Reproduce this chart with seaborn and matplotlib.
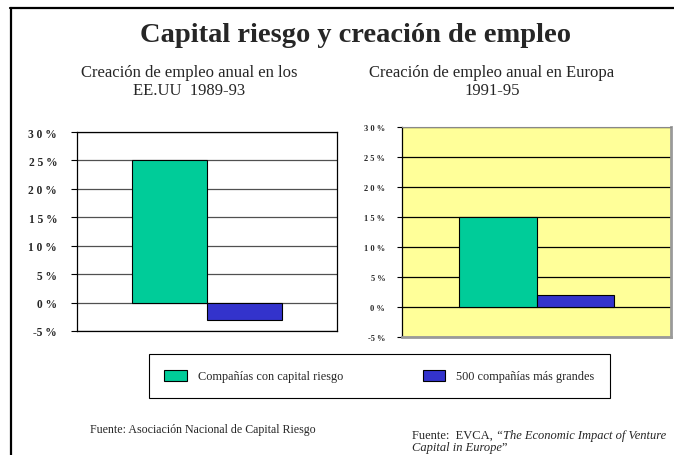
import matplotlib
matplotlib.use("Agg")
import matplotlib.pyplot as plt
from matplotlib.lines import Line2D
import seaborn as sns
import pandas as pd

# ---- data ----
regions = ["EE.UU 1989-93", "Europa 1991-95"]
series_names = ["Compañías con capital riesgo", "500 compañías más grandes"]
venture_values = [25, 15]
top500_values = [-3, 2]
y_ticks = [-5, 0, 5, 10, 15, 20, 25, 30]
left_tick_labels = ["-5 %", "0 %", "5 %", "1 0 %", "1 5 %", "2 0 %", "2 5 %", "3 0 %"]
right_tick_labels = ["-5 %", "0 %", "5 %", "1 0 %", "1 5 %", "2 0 %", "2 5 %", "3 0 %"]

title = "Capital riesgo y creación de empleo"
left_subtitle = "Creación de empleo anual en los\nEE.UU  1989-93"
right_subtitle = "Creación de empleo anual en Europa\n1991-95"

df = pd.DataFrame({
    "region": [regions[0], regions[0], regions[1], regions[1]],
    "serie": [series_names[0], series_names[1], series_names[0], series_names[1]],
    "value": [venture_values[0], top500_values[0], venture_values[1], top500_values[1]],
})

GREEN = "#00CC99"
BLUE = "#3333CC"

sns.set_style("white")
plt.rcParams["font.family"] = ["Liberation Serif", "DejaVu Serif"]

W, H = 674, 456
fig = plt.figure(figsize=(W / 100, H / 100), dpi=100)

def fx(px):
    return px / W

def fy(py):
    return 1 - py / H

ax1 = fig.add_axes([fx(77), fy(332), fx(337) - fx(77), fy(133) - fy(332)])
ax2 = fig.add_axes([fx(402), fy(338), fx(671) - fx(402), fy(128) - fy(338)])

for ax, reg in [(ax1, regions[0]), (ax2, regions[1])]:
    sub = df[df["region"] == reg]
    sns.barplot(data=sub, x="region", y="value", hue="serie",
                hue_order=series_names, palette=[GREEN, BLUE], saturation=1,
                width=0.577, gap=0, edgecolor="black", linewidth=0.8,
                ax=ax, zorder=3)
    ax.set_xlim(-0.5, 0.5)
    ax.set_ylim(-5, 30)
    ax.set_xticks([])
    ax.set_xlabel("")
    ax.set_ylabel("")
    ax.set_yticks(y_ticks)

handles, labels = ax1.get_legend_handles_labels()
ax1.get_legend().remove()
ax2.get_legend().remove()

# left chart style
ax1.set_facecolor("white")
ax1.set_yticklabels(left_tick_labels, fontsize=8.3, fontweight="bold")
ax1.tick_params(axis="y", left=True, length=4.3, width=0.8, color="black", pad=10)
ax1.yaxis.grid(True, color="#505050", linewidth=0.9, zorder=0)
ax1.set_axisbelow(True)
for s in ax1.spines.values():
    s.set_color("black")
    s.set_linewidth(0.9)

# right chart style
ax2.set_facecolor("#FFFF99")
ax2.set_yticklabels(right_tick_labels, fontsize=6, fontweight="bold")
ax2.tick_params(axis="y", left=True, length=3.6, width=0.8, color="black", pad=8.5)
ax2.yaxis.grid(True, color="black", linewidth=0.9, zorder=0)
ax2.set_axisbelow(True)
ax2.spines["left"].set_color("black")
ax2.spines["left"].set_linewidth(0.9)
ax2.spines["top"].set_color("#888888")
ax2.spines["top"].set_linewidth(0.8)
for k in ["right", "bottom"]:
    ax2.spines[k].set_color("#9a9a9a")
    ax2.spines[k].set_linewidth(2.0)

# titles
fig.text(fx(356), fy(35), title, ha="center", va="center",
         fontsize=20.5, fontweight="bold")
fig.text(fx(189), fy(82), left_subtitle, ha="center", va="center",
         fontsize=12, linespacing=1.15)
fig.text(fx(492), fy(82), right_subtitle, ha="center", va="center",
         fontsize=12, linespacing=1.15)

# legend
leg = fig.legend(handles, labels, loc="center",
                 bbox_to_anchor=(fx(149), fy(399), fx(610) - fx(149), fy(355) - fy(399)),
                 mode="expand", ncol=2, fontsize=8.8, borderpad=1.25,
                 handlelength=1.85, handleheight=1.0, handletextpad=0.9,
                 frameon=True, fancybox=False, edgecolor="black",
                 framealpha=1, borderaxespad=0)
leg.get_frame().set_linewidth(0.8)

# footers
fig.text(fx(90), fy(430), "Fuente: Asociación Nacional de Capital Riesgo",
         ha="left", va="center", fontsize=8.6)

fig.canvas.draw()
renderer = fig.canvas.get_renderer()
t1 = fig.text(fx(412), fy(436), "Fuente:  EVCA, ", ha="left", va="center", fontsize=9)
bb = t1.get_window_extent(renderer)
fig.text(bb.x1 / W, fy(436), "\u201cThe Economic Impact of Venture",
         ha="left", va="center", fontsize=9, style="italic")
t3 = fig.text(fx(412), fy(448), "Capital in Europe", ha="left", va="center",
              fontsize=9, style="italic")
bb3 = t3.get_window_extent(renderer)
fig.text(bb3.x1 / W, fy(448), "\u201d", ha="left", va="center", fontsize=9)

# page border lines (top and left)
fig.add_artist(Line2D([fx(10), 1], [fy(9), fy(9)], color="black", linewidth=1.6,
                      transform=fig.transFigure))
fig.add_artist(Line2D([fx(11), fx(11)], [fy(9), 0], color="black", linewidth=1.6,
                      transform=fig.transFigure))

fig.savefig("out.png", dpi=100)
